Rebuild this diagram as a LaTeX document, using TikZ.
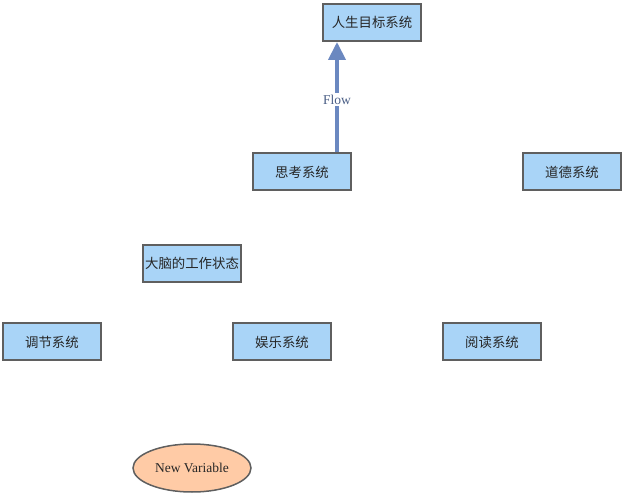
\documentclass[tikz,border=0pt]{standalone}
\usepackage{fontspec}
\setmainfont{Liberation Serif}
\newfontfamily\cjk{Noto Sans CJK SC}
\usetikzlibrary{shapes.geometric,arrows.meta}
\definecolor{boxfill}{HTML}{A9D4F7}
\definecolor{boxline}{HTML}{5F5F5F}
\definecolor{flowc}{HTML}{6B88C0}
\definecolor{varfill}{HTML}{FFCBA6}
\begin{document}
\begin{tikzpicture}[x=1pt,y=-1pt,
  stock/.style={draw=boxline,line width=2pt,fill=boxfill,minimum width=98pt,minimum height=37pt,inner sep=0pt,font=\cjk\fontsize{13.4}{15}\selectfont,text=black!85},
  varnode/.style={ellipse,draw=boxline,line width=1.5pt,fill=varfill,minimum width=118pt,minimum height=48pt,inner sep=0pt,font=\fontsize{13.5}{15}\selectfont,text=black!85},
  flowarrow/.style={draw=flowc,line width=4pt,-{Triangle[length=18pt,width=17pt]}},
  flowlabel/.style={fill=white,inner sep=1.5pt,font=\fontsize{13.5}{15}\selectfont,text=flowc!70!black}]
\useasboundingbox (0,0) rectangle (624,494);
\node[stock] (goal) at (372,22.5) {人生目标系统};
\node[stock] (think) at (302,172) {思考系统};
\node[stock] (moral) at (572,172) {道德系统};
\node[stock] (brain) at (192,263.5) {大脑的工作状态};
\node[stock] (adjust) at (52,342) {调节系统};
\node[stock] (fun) at (282,342) {娱乐系统};
\node[stock] (read) at (492,342) {阅读系统};
\node[varnode] (var) at (192,468) {New Variable};
\coordinate (fs) at (337,152);
\coordinate (fe) at (337,42);
\draw[flowarrow] (think.north -| fs) -- (goal.south -| fe) node[pos=0.48,flowlabel] (flowlbl) {Flow};
\end{tikzpicture}
\end{document}
